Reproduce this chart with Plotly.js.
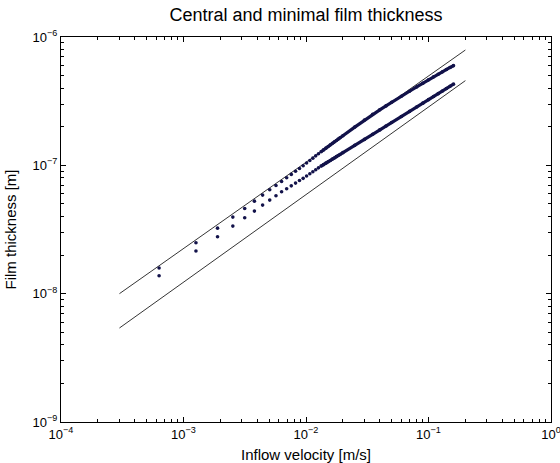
<!DOCTYPE html>
<html>
<head>
<meta charset="utf-8">
<script src="https://cdn.plot.ly/plotly-3.0.1.min.js"></script>
<style>html,body{margin:0;padding:0;background:#fff}#chart{width:560px;height:463px}</style>
</head>
<body>
<div id="chart"></div>
<script>
// Inflow velocity [m/s]
const velocity = [0.000632, 0.001264, 0.001896, 0.002528, 0.00316, 0.003792, 0.004424, 0.005056, 0.005688, 0.00632,
  0.006952, 0.007584, 0.008216, 0.008848, 0.00948, 0.010112, 0.010744, 0.011376, 0.012008, 0.01264,
  0.013272, 0.013904, 0.014536, 0.015168, 0.0158, 0.016432, 0.017064, 0.017696, 0.018328, 0.01896,
  0.020, 0.025, 0.030, 0.035, 0.040, 0.045, 0.050, 0.060, 0.070, 0.080, 0.090, 0.100, 0.110, 0.120, 0.130, 0.140, 0.150, 0.160];
// Central film thickness [m]
const hCentral = [1.585e-8, 2.49e-8, 3.24e-8, 3.95e-8, 4.61e-8, 5.26e-8, 5.86e-8, 6.45e-8, 6.97e-8, 7.48e-8,
  8.0e-8, 8.5e-8, 9.0e-8, 9.45e-8, 9.93e-8, 1.043e-7, 1.092e-7, 1.138e-7, 1.185e-7, 1.231e-7,
  1.275e-7, 1.319e-7, 1.361e-7, 1.403e-7, 1.444e-7, 1.484e-7, 1.524e-7, 1.563e-7, 1.601e-7, 1.639e-7,
  1.701e-7, 1.986e-7, 2.252e-7, 2.497e-7, 2.706e-7, 2.906e-7, 3.102e-7, 3.451e-7, 3.778e-7, 4.080e-7, 4.367e-7, 4.637e-7, 4.890e-7, 5.129e-7, 5.353e-7, 5.576e-7, 5.788e-7, 5.979e-7];
// Minimal film thickness [m]
const hMinimal = [1.38e-8, 2.15e-8, 2.78e-8, 3.36e-8, 3.90e-8, 4.40e-8, 4.90e-8, 5.36e-8, 5.79e-8, 6.22e-8,
  6.57e-8, 6.92e-8, 7.27e-8, 7.61e-8, 7.92e-8, 8.25e-8, 8.59e-8, 8.92e-8, 9.24e-8, 9.56e-8,
  9.86e-8, 1.0125e-7, 1.040e-7, 1.067e-7, 1.092e-7, 1.118e-7, 1.142e-7, 1.169e-7, 1.192e-7, 1.216e-7,
  1.256e-7, 1.431e-7, 1.593e-7, 1.746e-7, 1.889e-7, 2.025e-7, 2.157e-7, 2.402e-7, 2.631e-7, 2.848e-7, 3.053e-7, 3.25e-7, 3.435e-7, 3.619e-7, 3.8e-7, 3.966e-7, 4.133e-7, 4.292e-7];
// Reference straight lines (end points)
const refVelocity = [3e-4, 0.2];
const refCentral = [1e-8, 7.92e-7];
const refMinimal = [5.4e-9, 4.57e-7];

// Axis ticks
const xTickVals = [1e-4, 1e-3, 1e-2, 1e-1, 1];
const xTickText = ['10<sup>\u22124</sup>', '10<sup>\u22123</sup>', '10<sup>\u22122</sup>', '10<sup>\u22121</sup>', '10<sup>0</sup>'];
const yTickVals = [1e-9, 1e-8, 1e-7, 1e-6];
const yTickText = ['10<sup>\u22129</sup>', '10<sup>\u22128</sup>', '10<sup>\u22127</sup>', '10<sup>\u22126</sup>'];
const minorDigits = [2, 3, 4, 5, 6, 7, 8, 9];

function minorVals(majors) {
  const out = [];
  majors.slice(0, -1).forEach(d => minorDigits.forEach(m => out.push(m * d)));
  return out;
}

const dotColor = '#12124a';
const denseStart = 20;
const font = 'Liberation Sans, Arial, Helvetica, sans-serif';

const traces = [
  {x: refVelocity, y: refCentral, mode: 'lines', line: {color: '#000', width: 0.8}, hoverinfo: 'skip'},
  {x: refVelocity, y: refMinimal, mode: 'lines', line: {color: '#000', width: 0.8}, hoverinfo: 'skip'},
  {x: velocity.slice(denseStart), y: hCentral.slice(denseStart), mode: 'lines', line: {color: dotColor, width: 3.2}},
  {x: velocity.slice(denseStart), y: hMinimal.slice(denseStart), mode: 'lines', line: {color: dotColor, width: 3.2}},
  {x: velocity, y: hCentral, mode: 'markers', marker: {color: dotColor, size: 3.6}},
  {x: velocity, y: hMinimal, mode: 'markers', marker: {color: dotColor, size: 3.6}}
];

function axis(tickVals, tickText, titleText, standoff) {
  return {
    type: 'log', range: [Math.log10(tickVals[0]), Math.log10(tickVals[tickVals.length - 1])],
    tickmode: 'array', tickvals: tickVals, ticktext: tickText,
    ticklabeloverflow: 'allow',
    showgrid: false, zeroline: false,
    showline: true, linecolor: '#000', linewidth: 1, mirror: 'allticks',
    ticks: 'inside', ticklen: 5, tickwidth: 1, tickcolor: '#000',
    tickfont: {family: font, size: 13, color: '#000'},
    minor: {tickmode: 'array', tickvals: minorVals(tickVals), ticks: 'inside', ticklen: 3, tickwidth: 1, tickcolor: '#000', showgrid: false},
    title: {text: titleText, font: {family: font, size: 15, color: '#000'}, standoff: standoff}
  };
}

const layout = {
  width: 560, height: 463,
  margin: {l: 61, r: 9, t: 37, b: 41},
  paper_bgcolor: '#fff', plot_bgcolor: '#fff',
  showlegend: false,
  font: {family: font, color: '#000'},
  title: {text: 'Central and minimal film thickness', font: {family: font, size: 18, color: '#000'},
          xref: 'paper', x: 0.5, xanchor: 'center', yref: 'container', y: 1 - 15 / 463, yanchor: 'middle'},
  xaxis: axis(xTickVals, xTickText, 'Inflow velocity [m/s]', 8),
  yaxis: axis(yTickVals, yTickText, 'Film thickness [m]', 12)
};

Plotly.newPlot('chart', traces, layout, {displayModeBar: false, staticPlot: true});
</script>
</body>
</html>
